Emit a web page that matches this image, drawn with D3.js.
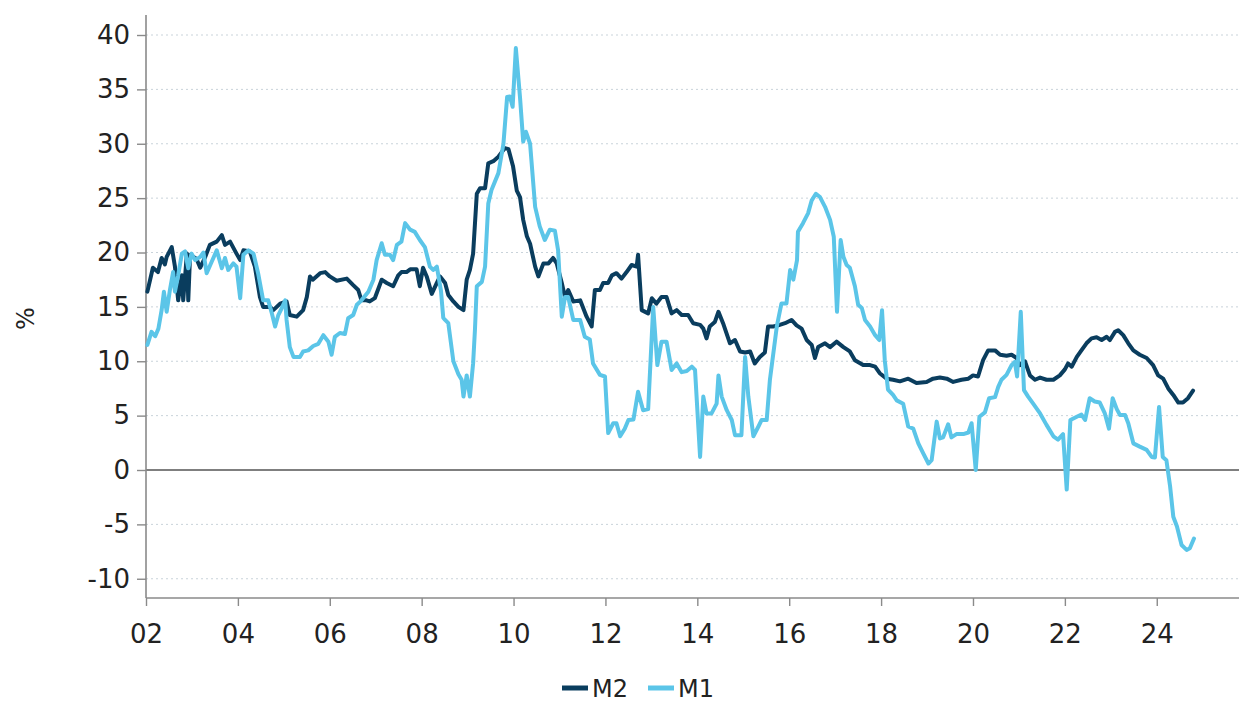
<!DOCTYPE html>
<html>
<head>
<meta charset="utf-8">
<script src="https://cdn.jsdelivr.net/npm/d3@7/dist/d3.min.js"></script>
<style>
  html, body { margin: 0; padding: 0; background: #ffffff; }
  svg { display: block; font-family: "DejaVu Sans", Verdana, sans-serif; }
</style>
</head>
<body>
<svg id="chart" width="1239" height="703"></svg>
<script>
// ---- Data (decimal years, % growth y/y) ----
const m2Years = [2002.03,2002.15,2002.26,2002.34,2002.41,2002.45,2002.56,2002.63,2002.70,2002.78,2002.81,2002.89,2002.92,2002.96,2003.10,2003.18,2003.28,2003.39,2003.54,2003.65,2003.72,2003.83,2003.97,2004.05,2004.12,2004.26,2004.37,2004.48,2004.55,2004.70,2004.77,2004.92,2005.06,2005.13,2005.28,2005.42,2005.50,2005.57,2005.63,2005.79,2005.90,2006.00,2006.15,2006.37,2006.51,2006.62,2006.69,2006.80,2006.87,2006.98,2007.13,2007.24,2007.38,2007.49,2007.56,2007.67,2007.75,2007.89,2007.96,2008.03,2008.11,2008.22,2008.33,2008.40,2008.51,2008.58,2008.69,2008.80,2008.91,2008.98,2009.05,2009.12,2009.20,2009.27,2009.38,2009.45,2009.56,2009.67,2009.81,2009.89,2009.99,2010.07,2010.14,2010.21,2010.29,2010.36,2010.47,2010.54,2010.65,2010.76,2010.86,2010.94,2011.05,2011.12,2011.19,2011.30,2011.45,2011.59,2011.70,2011.77,2011.88,2011.95,2012.06,2012.14,2012.24,2012.35,2012.46,2012.57,2012.68,2012.71,2012.79,2012.93,2013.01,2013.11,2013.22,2013.33,2013.44,2013.55,2013.66,2013.80,2013.91,2014.06,2014.13,2014.20,2014.27,2014.38,2014.46,2014.56,2014.71,2014.82,2014.93,2015.04,2015.15,2015.25,2015.36,2015.47,2015.54,2015.65,2015.76,2015.91,2016.05,2016.16,2016.27,2016.38,2016.49,2016.56,2016.63,2016.78,2016.89,2017.03,2017.18,2017.32,2017.43,2017.61,2017.76,2017.87,2017.97,2018.12,2018.26,2018.41,2018.59,2018.77,2018.99,2019.13,2019.28,2019.43,2019.57,2019.75,2019.90,2020.00,2020.11,2020.22,2020.33,2020.48,2020.59,2020.73,2020.84,2020.95,2021.02,2021.13,2021.24,2021.35,2021.46,2021.60,2021.75,2021.89,2022.00,2022.07,2022.15,2022.26,2022.36,2022.47,2022.58,2022.69,2022.80,2022.91,2022.98,2023.09,2023.16,2023.27,2023.38,2023.49,2023.63,2023.78,2023.92,2024.03,2024.14,2024.25,2024.36,2024.47,2024.57,2024.68,2024.79];
const m2Values = [16.4,18.6,18.2,19.5,18.9,19.6,20.5,18.7,15.6,17.9,15.6,19.9,15.6,19.8,19.4,18.6,19.5,20.7,21.0,21.6,20.7,21.0,19.9,19.3,20.2,20.1,18.7,15.9,15.0,15.0,14.7,15.3,15.5,14.25,14.1,14.7,15.9,17.8,17.5,18.1,18.2,17.8,17.4,17.6,17.0,16.55,15.6,15.6,15.5,15.8,17.5,17.2,16.9,17.9,18.2,18.2,18.45,18.45,16.9,18.6,17.8,16.2,17.2,17.8,17.2,16.1,15.5,15.0,14.7,17.5,18.4,19.9,25.4,25.9,25.9,28.2,28.4,28.8,29.6,29.5,27.9,25.7,25.1,23.0,21.5,20.8,18.7,17.8,19.0,19.0,19.5,19.0,17.2,15.9,16.55,15.5,15.6,14.1,13.2,16.55,16.55,17.2,17.2,17.9,18.1,17.6,18.2,18.85,18.7,19.8,14.7,14.4,15.8,15.3,15.9,15.9,14.4,14.7,14.25,14.25,13.5,13.35,13.0,12.1,13.2,13.6,14.55,13.5,11.65,11.95,10.9,10.8,10.9,9.8,10.4,10.8,13.2,13.2,13.3,13.5,13.8,13.3,13.0,11.95,11.5,10.3,11.3,11.65,11.3,11.8,11.3,10.9,10.1,9.65,9.65,9.5,8.9,8.4,8.3,8.15,8.4,8.0,8.1,8.4,8.5,8.4,8.1,8.3,8.4,8.7,8.6,10.1,11.0,11.0,10.6,10.5,10.6,10.3,9.65,10.0,8.7,8.3,8.5,8.3,8.3,8.7,9.25,9.8,9.5,10.4,11.0,11.65,12.1,12.2,11.95,12.25,11.95,12.7,12.85,12.4,11.65,11.0,10.6,10.3,9.65,8.7,8.4,7.5,6.9,6.2,6.2,6.6,7.3];

const m1Years = [2002.03,2002.12,2002.20,2002.27,2002.34,2002.39,2002.45,2002.52,2002.59,2002.63,2002.70,2002.78,2002.85,2002.92,2002.99,2003.07,2003.18,2003.25,2003.32,2003.43,2003.54,2003.65,2003.72,2003.79,2003.90,2003.97,2004.05,2004.12,2004.23,2004.34,2004.44,2004.55,2004.66,2004.74,2004.81,2004.88,2004.95,2005.03,2005.06,2005.13,2005.21,2005.35,2005.42,2005.53,2005.64,2005.75,2005.86,2005.97,2006.04,2006.11,2006.22,2006.33,2006.40,2006.51,2006.59,2006.69,2006.84,2006.95,2007.02,2007.13,2007.20,2007.31,2007.38,2007.46,2007.56,2007.64,2007.75,2007.85,2007.96,2008.07,2008.18,2008.25,2008.33,2008.42,2008.47,2008.51,2008.58,2008.69,2008.80,2008.87,2008.91,2008.98,2009.05,2009.12,2009.16,2009.20,2009.31,2009.38,2009.45,2009.52,2009.67,2009.78,2009.86,2009.92,2009.98,2010.05,2010.14,2010.21,2010.27,2010.36,2010.47,2010.57,2010.68,2010.79,2010.90,2010.97,2011.05,2011.12,2011.19,2011.30,2011.45,2011.55,2011.66,2011.73,2011.88,2011.99,2012.06,2012.17,2012.24,2012.32,2012.42,2012.50,2012.61,2012.71,2012.82,2012.93,2013.04,2013.13,2013.22,2013.33,2013.44,2013.55,2013.66,2013.77,2013.88,2013.95,2014.06,2014.13,2014.20,2014.31,2014.42,2014.46,2014.53,2014.64,2014.75,2014.82,2014.96,2015.04,2015.11,2015.22,2015.33,2015.40,2015.51,2015.58,2015.73,2015.83,2015.94,2016.02,2016.09,2016.17,2016.19,2016.30,2016.41,2016.49,2016.58,2016.67,2016.78,2016.89,2016.97,2017.04,2017.12,2017.18,2017.25,2017.32,2017.43,2017.50,2017.58,2017.65,2017.76,2017.87,2017.96,2018.02,2018.08,2018.15,2018.26,2018.34,2018.48,2018.59,2018.70,2018.81,2018.92,2019.03,2019.10,2019.21,2019.28,2019.35,2019.46,2019.53,2019.64,2019.79,2019.90,2019.97,2020.06,2020.14,2020.26,2020.35,2020.48,2020.55,2020.62,2020.73,2020.84,2020.91,2020.96,2021.04,2021.11,2021.20,2021.31,2021.46,2021.60,2021.75,2021.85,2021.96,2022.04,2022.12,2022.26,2022.36,2022.44,2022.54,2022.65,2022.76,2022.87,2022.96,2023.04,2023.13,2023.20,2023.31,2023.38,2023.49,2023.63,2023.78,2023.89,2023.96,2024.05,2024.13,2024.21,2024.29,2024.36,2024.44,2024.54,2024.65,2024.72,2024.81];
const m1Values = [11.5,12.7,12.3,13.0,14.7,16.4,14.55,16.55,18.2,16.4,17.9,19.9,20.1,18.55,19.9,19.3,19.6,20.0,18.1,19.15,20.2,18.55,19.5,18.4,19.0,18.7,15.8,19.8,20.2,19.9,18.1,15.6,15.6,14.4,13.2,14.25,14.85,15.6,13.8,11.3,10.4,10.4,10.9,11.0,11.4,11.6,12.4,11.8,10.6,12.25,12.6,12.5,13.95,14.25,15.2,15.6,16.4,17.5,19.3,20.85,19.8,19.8,19.3,20.7,21.0,22.7,22.1,21.9,21.15,20.5,18.7,18.4,18.7,16.5,14.0,13.8,13.5,10.0,8.8,8.3,6.75,8.7,6.75,9.8,12.9,16.9,17.3,18.7,24.5,25.75,27.3,30.0,34.3,34.35,33.4,38.8,34.3,30.2,31.1,30.0,24.2,22.4,21.15,22.1,22.0,20.2,14.1,15.9,15.9,13.8,13.8,12.25,12.0,9.8,8.75,8.6,3.4,4.3,4.3,3.1,3.8,4.6,4.65,7.2,5.5,5.6,15.0,9.65,11.8,11.8,9.2,9.8,9.0,9.1,9.5,9.2,1.2,6.75,5.2,5.2,6.1,8.7,6.75,5.5,4.6,3.2,3.2,10.4,6.75,3.1,4.0,4.6,4.6,8.3,13.2,15.3,15.3,18.4,17.5,19.3,21.9,22.7,23.6,24.8,25.4,25.1,24.2,23.0,21.45,14.55,21.15,19.6,18.85,18.6,16.9,15.2,14.9,13.8,13.2,12.4,11.95,14.7,10.1,7.4,6.9,6.4,6.1,4.0,3.8,2.45,1.5,0.6,0.9,4.45,2.9,3.0,4.2,3.0,3.3,3.3,3.45,4.3,0.0,4.9,5.3,6.6,6.7,7.65,8.3,8.75,9.65,9.95,8.6,14.55,7.35,6.75,6.1,5.2,4.15,3.1,2.8,3.3,-1.8,4.6,4.9,5.1,4.6,6.6,6.3,6.2,5.2,3.8,6.6,5.6,5.05,5.05,4.3,2.45,2.15,1.85,1.2,1.15,5.8,1.2,0.9,-1.5,-4.3,-5.2,-6.9,-7.35,-7.2,-6.3];

const xTickYears = [2002,2004,2006,2008,2010,2012,2014,2016,2018,2020,2022,2024];
const yTicks = [-10,-5,0,5,10,15,20,25,30,35,40];
const seriesNames = ["M2","M1"];
const seriesColors = ["#0a3d5e","#5bc5e8"];

// ---- Layout ----
const svg = d3.select("#chart");
const plotLeft = 146, plotRight = 1239, plotTop = 15, plotBottom = 598;

const x = d3.scaleLinear().domain([2002, 2025.79]).range([plotLeft, plotRight]);
const y = d3.scaleLinear().domain([-11.77, 41.84]).range([plotBottom, plotTop]);

// gridlines
svg.append("g").selectAll("line")
  .data(yTicks.filter(d => d !== 0))
  .join("line")
  .attr("x1", plotLeft).attr("x2", plotRight)
  .attr("y1", d => y(d)).attr("y2", d => y(d))
  .attr("stroke", "#c9d3da")
  .attr("stroke-width", 1)
  .attr("stroke-dasharray", "2,3");

// zero line
svg.append("line")
  .attr("x1", plotLeft).attr("x2", plotRight)
  .attr("y1", y(0)).attr("y2", y(0))
  .attr("stroke", "#555")
  .attr("stroke-width", 1.6);

// y axis
const yAxis = svg.append("g")
  .attr("transform", `translate(${plotLeft},0)`)
  .call(d3.axisLeft(y).tickValues(yTicks).tickSize(9).tickPadding(7).tickFormat(d => String(d)));
yAxis.select(".domain").attr("stroke", "#8a8a8a").attr("stroke-width", 1.6)
  .attr("d", `M0,${plotTop}V${plotBottom}`);
yAxis.selectAll(".tick line").attr("stroke", "#8a8a8a").attr("stroke-width", 1.4);
yAxis.selectAll("text").attr("font-size", 26).attr("fill", "#222")
  .attr("font-family", "'DejaVu Sans', Verdana, sans-serif");

// x axis
const xAxis = svg.append("g")
  .attr("transform", `translate(0,${plotBottom})`)
  .call(d3.axisBottom(x).tickValues(xTickYears).tickSize(8).tickPadding(19)
    .tickFormat(d => String(d % 100).padStart(2, "0")));
xAxis.select(".domain").attr("stroke", "#8a8a8a").attr("stroke-width", 1.6)
  .attr("d", `M${plotLeft},0H${plotRight}`);
xAxis.selectAll(".tick line").attr("stroke", "#8a8a8a").attr("stroke-width", 1.4);
xAxis.selectAll("text").attr("font-size", 26).attr("fill", "#222")
  .attr("font-family", "'DejaVu Sans', Verdana, sans-serif");

// y label
svg.append("text")
  .attr("transform", `translate(34,${(plotTop + plotBottom) / 2 + 12}) rotate(-90)`)
  .attr("text-anchor", "middle")
  .attr("font-size", 24)
  .attr("fill", "#222")
  .text("%");

// lines
const line = d3.line().x(d => x(d[0])).y(d => y(d[1]));
const m2Data = m2Years.map((d, i) => [d, m2Values[i]]);
const m1Data = m1Years.map((d, i) => [d, m1Values[i]]);

svg.append("path").datum(m2Data)
  .attr("fill", "none").attr("stroke", seriesColors[0])
  .attr("stroke-width", 4).attr("stroke-linejoin", "round").attr("stroke-linecap", "round")
  .attr("d", line);
svg.append("path").datum(m1Data)
  .attr("fill", "none").attr("stroke", seriesColors[1])
  .attr("stroke-width", 4).attr("stroke-linejoin", "round").attr("stroke-linecap", "round")
  .attr("d", line);

// legend
const legend = svg.append("g").attr("transform", "translate(562,688)");
const legendItems = [
  { name: seriesNames[0], color: seriesColors[0], x0: 0 },
  { name: seriesNames[1], color: seriesColors[1], x0: 86 }
];
legendItems.forEach(it => {
  legend.append("line")
    .attr("x1", it.x0).attr("x2", it.x0 + 26)
    .attr("y1", 0).attr("y2", 0)
    .attr("stroke", it.color).attr("stroke-width", 5);
  legend.append("text")
    .attr("x", it.x0 + 30).attr("y", 9)
    .attr("font-size", 24).attr("fill", "#222")
    .text(it.name);
});
</script>
</body>
</html>
